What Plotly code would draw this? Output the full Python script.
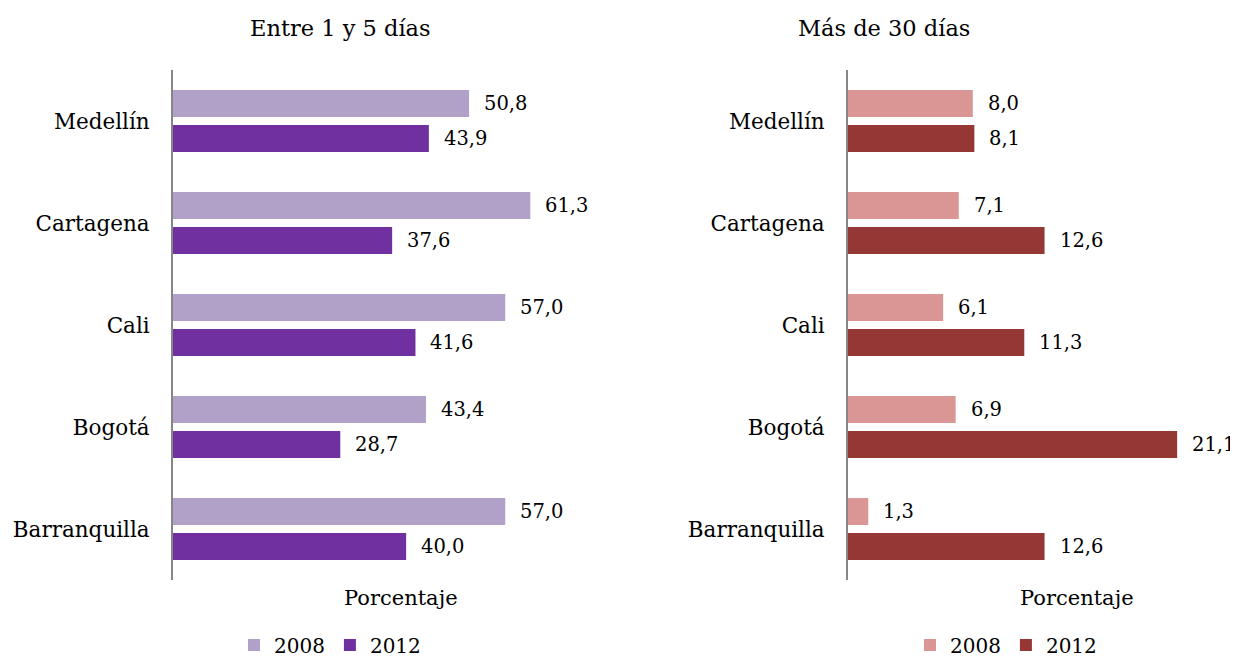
import plotly.graph_objects as go

cities = ["Medellín", "Cartagena", "Cali", "Bogotá", "Barranquilla"]
years = ["2008", "2012"]
corto_2008 = [50.8, 61.3, 57.0, 43.4, 57.0]
corto_2012 = [43.9, 37.6, 41.6, 28.7, 40.0]
largo_2008 = [8.0, 7.1, 6.1, 6.9, 1.3]
largo_2012 = [8.1, 12.6, 11.3, 21.1, 12.6]
titles = ["Entre 1 y 5 días", "Más de 30 días"]
axis_title = "Porcentaje"

colors_left = ["#B1A0C7", "#7030A0"]
colors_right = ["#DA9694", "#953735"]

FONT = "DejaVu Serif"
FS_CAT = 21.5
FS_NUM = 19.5
FS_TITLE = 22.5
FS_AX = 21
FS_LEG = 20
W, H = 1238, 656
OFF = 8


def px(x):
    return (x - OFF) / W


def py(y):
    return 1 - (y - OFF) / H


fig = go.Figure()

panels = [
    (corto_2008, corto_2012, colors_left, "x", "y", "legend"),
    (largo_2008, largo_2012, colors_right, "x2", "y2", "legend2"),
]

annotations = []
for vals08, vals12, cols, xa, ya, lg in panels:
    for yr, vals, col, shift in zip(years, [vals08, vals12], cols, [17.5, -17.5]):
        fig.add_trace(go.Bar(
            y=cities, x=vals, name=yr, orientation="h",
            marker=dict(color=col, line=dict(width=0)),
            xaxis=xa, yaxis=ya, legend=lg, hoverinfo="x+y",
        ))
        for c, v in zip(cities, vals):
            annotations.append(dict(
                x=v, y=c, xref=xa, yref=ya, text=f"{v:.1f}".replace(".", ","),
                showarrow=False, xanchor="left", yanchor="middle",
                xshift=13, yshift=shift, font=dict(family=FONT, size=FS_NUM, color="#000"),
            ))


def txt(x, y, t, size):
    return dict(x=px(x), y=py(y), xref="paper", yref="paper", text=t,
                showarrow=False, xanchor="center", yanchor="middle",
                font=dict(family=FONT, size=size, color="#000"))


annotations += [
    txt(340, 28, titles[0], FS_TITLE),
    txt(884, 28, titles[1], FS_TITLE),
    txt(401, 598, axis_title, FS_AX),
    txt(1077, 598, axis_title, FS_AX),
]

ydom = [py(580), py(70)]
xaxis_common = dict(showline=False, showgrid=False, zeroline=False, showticklabels=False, ticks="")
yaxis_common = dict(
    showline=True, linecolor="#868686", linewidth=2, showgrid=False, zeroline=False,
    autorange="reversed", ticks="", ticklabelstandoff=17, automargin=False,
    tickfont=dict(family=FONT, size=FS_CAT, color="#000"),
    domain=ydom, categoryorder="array", categoryarray=cities,
)

legend_common = dict(
    orientation="h", xanchor="left", yanchor="middle",
    font=dict(family=FONT, size=FS_LEG, color="#000"),
    bgcolor="rgba(0,0,0,0)", itemwidth=30, traceorder="normal",
)

fig.update_layout(
    width=W, height=H, margin=dict(l=0, r=0, t=0, b=0, autoexpand=False),
    paper_bgcolor="white", plot_bgcolor="white",
    barmode="group", bargap=0.314, bargroupgap=0.23,
    font=dict(family=FONT, size=FS_CAT, color="#000"),
    xaxis=dict(domain=[px(173), px(581)], range=[0, 70], anchor="y", **xaxis_common),
    xaxis2=dict(domain=[px(848), px(1238)], range=[0, 25], anchor="y2", **xaxis_common),
    yaxis=dict(anchor="x", **yaxis_common),
    yaxis2=dict(anchor="x2", **yaxis_common),
    legend=dict(x=px(234), y=py(645), **legend_common),
    legend2=dict(x=px(910), y=py(645), **legend_common),
    annotations=annotations,
    showlegend=True,
)

fig.write_html("out.html")
